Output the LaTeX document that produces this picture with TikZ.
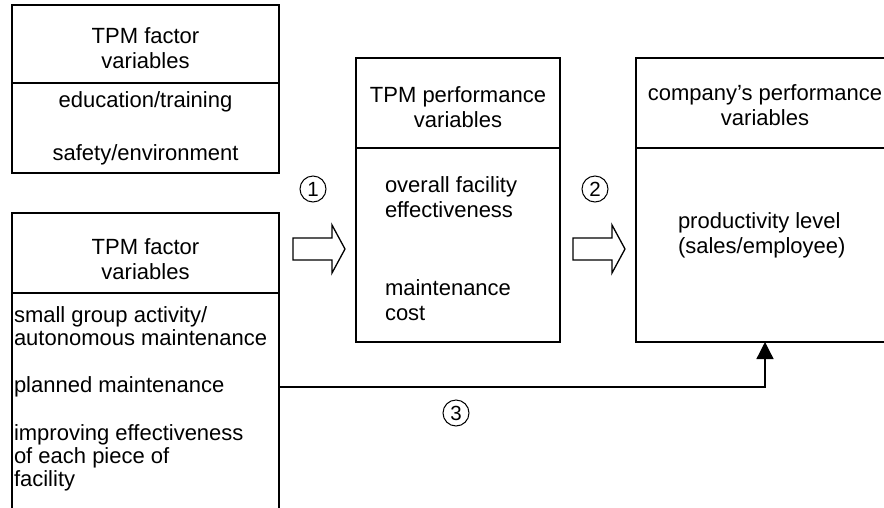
\documentclass[tikz,border=0pt]{standalone}
\usepackage{fontspec}
\setmainfont{Liberation Sans}
\usetikzlibrary{arrows.meta}
\tikzset{
  boxst/.style={draw, line width=1.5pt, inner sep=0pt, outer sep=0pt},
  divline/.style={line width=1.5pt},
  txt/.style={inner sep=0pt, outer sep=0pt, font=\fontsize{22}{25}\selectfont},
  txtb/.style={inner sep=0pt, outer sep=0pt, font=\fontsize{22}{23}\selectfont},
  circnum/.style={draw, circle, line width=1pt, minimum size=26pt, inner sep=0pt, font=\fontsize{20.5}{20.5}\selectfont},
  hollow/.style={draw, line width=1.3pt, fill=white, line join=miter},
  conn/.style={line width=1.3pt, -{Triangle[width=17pt,length=17pt]}}
}
\begin{document}
\begin{tikzpicture}[x=1pt,y=-1pt]
\useasboundingbox (0,0) rectangle (884,507);
\clip (0,0) rectangle (884,507);
\fill[white] (0,0) rectangle (884,507);

% boxes
\node[boxst, minimum width=267pt, minimum height=168pt] (tl) at (145.5,89) {};
\node[boxst, minimum width=267pt, minimum height=320pt] (bl) at (145.5,373) {};
\node[boxst, minimum width=204pt, minimum height=284pt] (mb) at (458,200) {};
\node[boxst, minimum width=258pt, minimum height=284pt] (rb) at (765,200) {};

% dividers
\draw[divline] (tl.west |- 0,83) -- (tl.east |- 0,83);
\draw[divline] (bl.west |- 0,293) -- (bl.east |- 0,293);
\draw[divline] (mb.west |- 0,148) -- (mb.east |- 0,148);
\draw[divline] (rb.west |- 0,148) -- (rb.east |- 0,148);

% top-left texts
\node[txt, align=center] (tlh) at (145.5,48) {TPM factor\\variables};
\node[txt] (tl1) at (145.5,102) {education/training};
\node[txt] (tl2) at (145.5,155) {safety/environment};

% bottom-left texts
\node[txt, align=center] (blh) at (145.5,259) {TPM factor\\variables};
\node[txtb, align=left, anchor=west] (bl1) at (14,326.5) {small group activity/\\autonomous maintenance};
\node[txtb, anchor=west] (bl2) at (14,387) {planned maintenance};
\node[txtb, align=left, anchor=west] (bl3) at (14,457.5) {improving effectiveness\\of each piece of\\facility};

% middle texts
\node[txt, align=center] (mbh) at (458,107.5) {TPM performance\\variables};
\node[txt, align=left, anchor=west] (mb1) at (385,197.5) {overall facility\\effectiveness};
\node[txt, align=left, anchor=west] (mb2) at (385,300.5) {maintenance\\cost};

% right texts
\node[txt, align=center] (rbh) at (765,105) {company’s performance\\variables};
\node[txt, align=left, anchor=west] (rb1) at (678,235.5) {productivity level\\(sales/employee)};

% hollow arrows
\draw[hollow] (293,238) -- (332,238) -- (332,225) -- (345,249) -- (332,273) -- (332,260) -- (293,260) -- cycle;
\draw[hollow] (573,238) -- (612,238) -- (612,225) -- (625,249) -- (612,273) -- (612,260) -- (573,260) -- cycle;

% circled numbers
\node[circnum] (n1) at (313,189) {1};
\node[circnum] (n2) at (595,189) {2};
\node[circnum] (n3) at (456,413) {3};

% connector 3
\coordinate (c3) at (279,387);
\draw[conn] (c3) -| (rb.south);
\end{tikzpicture}
\end{document}
